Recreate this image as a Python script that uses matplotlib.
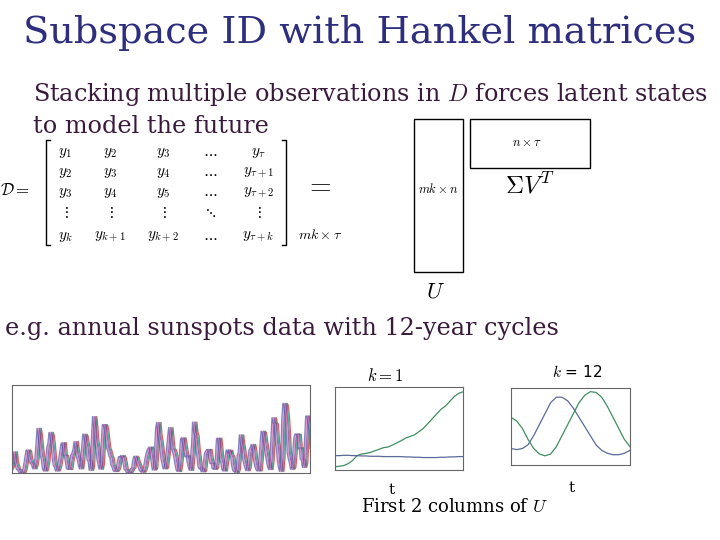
import matplotlib
matplotlib.use("Agg")
import matplotlib.pyplot as plt
from matplotlib.patches import Rectangle
import numpy as np

plt.rcParams['mathtext.fontset'] = 'cm'

title = "Subspace ID with Hankel matrices"
line1 = "Stacking multiple observations in $D$ forces latent states"
line2 = "to model the future"
example = "e.g. annual sunspots data with 12-year cycles"
caption = "First 2 columns of $U$"

sunspots = [5, 11, 16, 23, 36, 58, 29, 20, 10, 8, 3, 0, 0, 2, 11, 27, 47, 63, 60, 39,
            28, 26, 22, 11, 21, 40, 78, 122, 103, 73, 47, 35, 11, 5, 16, 34, 70, 81, 111, 101,
            73, 40, 20, 16, 5, 11, 22, 40, 60, 80, 83, 48, 48, 31, 12, 10, 10, 32, 48, 54,
            63, 86, 61, 45, 36, 21, 11, 38, 70, 106, 101, 82, 66, 35, 31, 7, 20, 92, 154, 126,
            85, 68, 38, 23, 10, 24, 83, 132, 131, 118, 90, 67, 60, 47, 41, 21, 16, 6, 4, 7,
            14, 34, 45, 43, 48, 42, 28, 10, 8, 2, 0, 1, 5, 12, 14, 35, 46, 41, 30, 24,
            16, 7, 4, 2, 8, 17, 36, 50, 62, 67, 71, 48, 28, 8, 13, 57, 122, 138, 103, 86,
            63, 37, 24, 11, 15, 40, 62, 98, 124, 96, 66, 64, 54, 39, 21, 7, 4, 23, 55, 94,
            96, 77, 59, 44, 47, 30, 16, 7, 37, 74, 139, 111, 102, 66, 45, 17, 11, 12, 3, 6,
            32, 54, 60, 64, 64, 42, 26, 27, 12, 10, 14, 42, 94, 95, 64, 36, 27, 9, 5, 24,
            42, 63, 54, 62, 49, 44, 19, 6, 4, 1, 10, 47, 57, 104, 81, 64, 38, 26, 14, 6,
            17, 44, 64, 69, 78, 65, 36, 21, 11, 6, 6, 36, 79, 114, 110, 89, 68, 48, 31, 16,
            9, 33, 93, 151, 136, 134, 84, 69, 31, 14, 4, 38, 142, 190, 185, 159, 112, 54, 38, 28,
            10, 15, 47, 94, 106, 106, 105, 66, 69, 38, 35, 15, 28, 93, 155, 155, 140, 116, 67, 46]
k1_u1 = [-0.09, -0.088, -0.086, -0.08, -0.07, -0.055, -0.05, -0.048, -0.045, -0.04,
         -0.035, -0.03, -0.028, -0.022, -0.015, -0.008, 0.0, 0.005, 0.01, 0.02,
         0.03, 0.045, 0.06, 0.075, 0.09, 0.10, 0.115, 0.13, 0.14, 0.145]
k1_u2 = [-0.055, -0.055, -0.054, -0.054, -0.055, -0.055, -0.056, -0.056, -0.057, -0.057,
         -0.057, -0.058, -0.058, -0.058, -0.058, -0.058, -0.059, -0.059, -0.06, -0.06,
         -0.061, -0.061, -0.061, -0.061, -0.06, -0.06, -0.059, -0.059, -0.058, -0.058]
k12_u1 = [-0.55, -0.58, -0.55, -0.45, -0.2, 0.1, 0.4, 0.7, 0.85, 0.85,
          0.75, 0.55, 0.3, 0.05, -0.2, -0.45, -0.6, -0.68, -0.72, -0.72, -0.68, -0.6]
k12_u2 = [0.3, 0.2, 0.0, -0.3, -0.55, -0.7, -0.75, -0.7, -0.5, -0.2,
          0.1, 0.4, 0.7, 0.9, 1.0, 0.98, 0.85, 0.6, 0.3, 0.0, -0.3, -0.5]

W, H = 720, 540
fig = plt.figure(figsize=(7.2, 5.4), dpi=100)
fig.patch.set_facecolor('white')

def P(x, y):
    return x / W, 1 - y / H

serif = ['DejaVu Serif']
body = '#3a1a3a'
fig.text(*P(360, 33), title, ha='center', va='center', fontsize=27.5, color='#2e2e7e', family=serif)
fig.text(*P(33, 95), line1, ha='left', va='center', fontsize=17.2, color=body, family=serif)
fig.text(*P(33, 126), line2, ha='left', va='center', fontsize=17.2, color=body, family=serif)
fig.text(*P(5, 329), example, ha='left', va='center', fontsize=17.2, color=body, family=serif)

# Hankel matrix
fig.text(*P(0, 190), r"$\mathcal{D}=$", ha='left', va='center', fontsize=12)
rows = [[r"$y_1$", r"$y_2$", r"$y_3$", r"$\cdots$", r"$y_\tau$"],
        [r"$y_2$", r"$y_3$", r"$y_4$", r"$\cdots$", r"$y_{\tau+1}$"],
        [r"$y_3$", r"$y_4$", r"$y_5$", r"$\cdots$", r"$y_{\tau+2}$"],
        [r"$\vdots$", r"$\vdots$", r"$\vdots$", r"$\ddots$", r"$\vdots$"],
        [r"$y_k$", r"$y_{k+1}$", r"$y_{k+2}$", r"$\cdots$", r"$y_{\tau+k}$"]]
xs = [65, 110, 163, 210, 258]
ys = [152, 173, 193, 213, 236]
for r, y in zip(rows, ys):
    for t, x in zip(r, xs):
        fig.text(*P(x, y), t, ha='center', va='center', fontsize=11)
fig.add_artist(plt.Line2D([50/W, 46/W, 46/W, 50/W], [1-140/H, 1-140/H, 1-245/H, 1-245/H], color='k', lw=1))
fig.add_artist(plt.Line2D([282/W, 286/W, 286/W, 282/W], [1-140/H, 1-140/H, 1-245/H, 1-245/H], color='k', lw=1))
fig.text(*P(320, 235), r"$mk\times\tau$", ha='center', va='center', fontsize=10)
fig.text(*P(318, 185), r"$=$", ha='center', va='center', fontsize=20)

# SVD boxes
fig.add_artist(Rectangle(P(414, 272), 49/W, 153/H, fill=False, ec='k', lw=1))
fig.add_artist(Rectangle(P(470, 168), 120/W, 49/H, fill=False, ec='k', lw=1))
fig.text(*P(438, 189), r"$mk\times n$", ha='center', va='center', fontsize=9)
fig.text(*P(527, 143), r"$n\times\tau$", ha='center', va='center', fontsize=9)
fig.text(*P(530, 186), r"$\Sigma V^T$", ha='center', va='center', fontsize=18)
fig.text(*P(436, 291), r"$U$", ha='center', va='center', fontsize=16)

# sunspot axes
ax = fig.add_axes([12/W, 1-473/H, 298/W, 88/H])
s = np.array(sunspots, dtype=float)
cols = ['#d62728', '#1f9e89', '#7b3f9e', '#e377c2', '#5b5ea6']
n = len(s) - len(cols)
for i, c in enumerate(cols):
    ax.plot(np.arange(n), s[i:i + n], color=c, lw=0.9, alpha=0.75)
ax.set_xlim(0, n - 1)
ax.set_ylim(0, 240)
ax.set_xticks([]); ax.set_yticks([])

ax1 = fig.add_axes([335/W, 1-470/H, 128/W, 83/H])
ax1.plot(k1_u1, color='#3f8f5f', lw=0.9)
ax1.plot(k1_u2, color='#5a6a9a', lw=0.9)
ax1.set_xlim(0, len(k1_u1) - 1); ax1.set_ylim(-0.1, 0.16)
ax1.set_xticks([]); ax1.set_yticks([])
fig.text(*P(385, 376), r"$k=1$", ha='center', va='center', fontsize=12)
fig.text(*P(392, 490), "t", ha='center', va='center', fontsize=11, family=serif)

ax2 = fig.add_axes([511/W, 1-465/H, 119/W, 77/H])
ax2.plot(k12_u1, color='#5a6a9a', lw=0.9)
ax2.plot(k12_u2, color='#3f8f5f', lw=0.9)
ax2.set_xlim(0, len(k12_u1) - 1); ax2.set_ylim(-1.0, 1.1)
ax2.set_xticks([]); ax2.set_yticks([])
fig.text(*P(577, 372), r"$k$ = 12", ha='center', va='center', fontsize=11)
fig.text(*P(572, 488), "t", ha='center', va='center', fontsize=11, family=serif)
for a in (ax, ax1, ax2):
    for sp in a.spines.values():
        sp.set_color('#666666'); sp.set_linewidth(0.8)

fig.text(*P(455, 507), caption, ha='center', va='center', fontsize=13, color='k', family=serif)

fig.savefig("out.png", dpi=100)
